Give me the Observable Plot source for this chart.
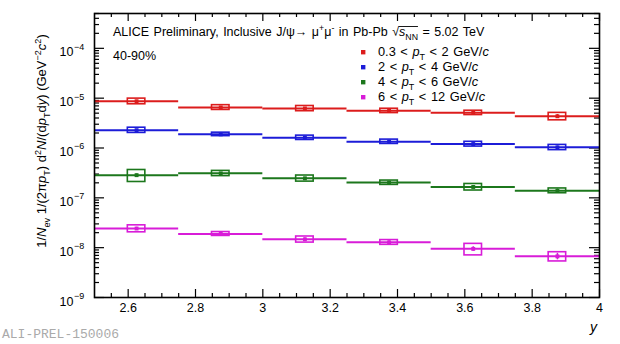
<!DOCTYPE html>
<html><head><meta charset="utf-8">
<script src="https://cdn.jsdelivr.net/npm/d3@7"></script>
<script src="https://cdn.jsdelivr.net/npm/@observablehq/plot@0.6"></script>
<style>
body{margin:0;background:#fff;}
#chart svg{display:block;font-family:"Liberation Sans",Arial,sans-serif;overflow:visible;}
</style>
</head><body><div id="chart"></div>
<script>
// ---- data ----
const binLow  = [2.5, 2.75, 3.0, 3.25, 3.5, 3.75];
const binHigh = [2.75, 3.0, 3.25, 3.5, 3.75, 4.0];
const seriesNames = ["0.3-2", "2-4", "4-6", "6-12"];
const ptLow  = ["0.3", "2", "4", "6"];
const ptHigh = ["2", "4", "6", "12"];
const seriesColors = ["#dc1c1c", "#1c1cd8", "#1c771c", "#d81cd8"];

const yieldPt03to2 = [8.67e-6, 6.52e-6, 6.22e-6, 5.58e-6, 5.09e-6, 4.33e-6];
const yieldPt2to4  = [2.28e-6, 1.88e-6, 1.61e-6, 1.34e-6, 1.20e-6, 1.03e-6];
const yieldPt4to6  = [2.85e-7, 3.10e-7, 2.46e-7, 2.02e-7, 1.65e-7, 1.39e-7];
const yieldPt6to12 = [2.42e-8, 1.89e-8, 1.47e-8, 1.28e-8, 9.46e-9, 6.70e-9];

// relative systematic uncertainties (boxes)
const sysPt03to2 = [0.13, 0.11, 0.12, 0.10, 0.10, 0.17];
const sysPt2to4  = [0.12, 0.08, 0.10, 0.10, 0.11, 0.12];
const sysPt4to6  = [0.27, 0.12, 0.14, 0.10, 0.15, 0.11];
const sysPt6to12 = [0.16, 0.09, 0.14, 0.11, 0.26, 0.21];
// relative statistical uncertainties (vertical bars)
const statPt03to2 = [0.04, 0.03, 0.04, 0.04, 0.05, 0.08];
const statPt2to4  = [0.03, 0.03, 0.03, 0.04, 0.05, 0.06];
const statPt4to6  = [0.05, 0.04, 0.05, 0.05, 0.07, 0.08];
const statPt6to12 = [0.06, 0.05, 0.07, 0.08, 0.10, 0.15];

const xMajorTicks = [2.6, 2.8, 3.0, 3.2, 3.4, 3.6, 3.8, 4.0];
const xTickLabels = ["2.6", "2.8", "3", "3.2", "3.4", "3.6", "3.8", "4"];
const xMinorTicks = [2.55, 2.65, 2.7, 2.75, 2.85, 2.9, 2.95, 3.05, 3.1, 3.15, 3.25, 3.3, 3.35, 3.45, 3.5, 3.55, 3.65, 3.7, 3.75, 3.85, 3.9, 3.95];
const yDecades = [1e-9, 1e-8, 1e-7, 1e-6, 1e-5, 1e-4];
const yExponents = ["\u22129", "\u22128", "\u22127", "\u22126", "\u22125", "\u22124"];
const yMinorMantissas = [2, 3, 4, 5, 6, 7, 8, 9];

// ---- build table ----
const yields = [yieldPt03to2, yieldPt2to4, yieldPt4to6, yieldPt6to12];
const syss = [sysPt03to2, sysPt2to4, sysPt4to6, sysPt6to12];
const stats = [statPt03to2, statPt2to4, statPt4to6, statPt6to12];
const boxHalf = 0.026;
const rows = [];
seriesNames.forEach((s, k) => {
  yields[k].forEach((v, i) => {
    const mid = (binLow[i] + binHigh[i]) / 2;
    rows.push({
      series: s, lo: binLow[i], hi: binHigh[i], mid, v,
      bx1: mid - boxHalf, bx2: mid + boxHalf,
      sy1: v * (1 - syss[k][i]), sy2: v * (1 + syss[k][i]),
      st1: v * (1 - stats[k][i]), st2: v * (1 + stats[k][i])
    });
  });
});
const yMinorTicks = [];
yDecades.forEach(d => yMinorMantissas.forEach(m => { const t = m * d; if (t <= 5e-4) yMinorTicks.push(t); }));

const W = 620, H = 344, mL = 94, mR = 21, mT = 13, mB = 47;
const pw = W - mL - mR, ph = H - mT - mB;
const fsTick = 12.5;

const chart = Plot.plot({
  width: W, height: H,
  marginLeft: mL, marginRight: mR, marginTop: mT, marginBottom: mB,
  style: {background: "white", fontFamily: "Liberation Sans, Arial, sans-serif"},
  x: {domain: [2.5, 4], axis: null},
  y: {type: "log", domain: [1e-9, 5e-4], axis: null},
  color: {domain: seriesNames, range: seriesColors},
  marks: [
    // ticks (inside frame, ROOT style)
    Plot.tickX(xMajorTicks, {x: d => d, insetTop: ph - 8, stroke: "black", strokeWidth: 1.2}),
    Plot.tickX(xMinorTicks, {x: d => d, insetTop: ph - 4, stroke: "black", strokeWidth: 1.2}),
    Plot.tickX(xMajorTicks, {x: d => d, insetBottom: ph - 8, stroke: "black", strokeWidth: 1.2}),
    Plot.tickX(xMinorTicks, {x: d => d, insetBottom: ph - 4, stroke: "black", strokeWidth: 1.2}),
    Plot.tickY(yDecades, {y: d => d, insetRight: pw - 10, stroke: "black", strokeWidth: 1.2}),
    Plot.tickY(yMinorTicks, {y: d => d, insetRight: pw - 5, stroke: "black", strokeWidth: 1.2}),
    Plot.tickY(yDecades, {y: d => d, insetLeft: pw - 10, stroke: "black", strokeWidth: 1.2}),
    Plot.tickY(yMinorTicks, {y: d => d, insetLeft: pw - 5, stroke: "black", strokeWidth: 1.2}),
    // tick labels
    Plot.text(xMajorTicks, {x: d => d, text: (d, i) => xTickLabels[i], frameAnchor: "bottom", lineAnchor: "top", dy: 6, fontSize: fsTick, fill: "black"}),
    Plot.text(yDecades, {y: d => d, text: () => "10", frameAnchor: "left", textAnchor: "end", lineAnchor: "middle", dx: -21, dy: 4, fontSize: fsTick, fill: "black"}),
    Plot.text(yDecades, {y: d => d, text: (d, i) => yExponents[i], frameAnchor: "left", textAnchor: "start", lineAnchor: "middle", dx: -20.5, dy: -1.5, fontSize: 9, fill: "black"}),
    // data
    Plot.ruleY(rows, {y: "v", x1: "lo", x2: "hi", stroke: "series", strokeWidth: 2}),
    Plot.rect(rows, {x1: "bx1", x2: "bx2", y1: "sy1", y2: "sy2", stroke: "series", fill: "none", strokeWidth: 1.6}),
    Plot.ruleX(rows, {x: "mid", y1: "st1", y2: "st2", stroke: "series", strokeWidth: 1.5}),
    Plot.dot(rows, {x: "mid", y: "v", symbol: "square", r: 2.2, fill: "series", stroke: "none"}),
    Plot.frame({stroke: "black", strokeWidth: 1.6})
  ]
});
document.getElementById("chart").appendChild(chart);

// ---- rich text annotations ----
const svg = d3.select(chart);
function rich(sel, parts, fs) {
  let off = 0;
  const out = [];
  for (const p of parts) {
    const target = p.sub ? fs * 0.3 : p.sup ? -fs * 0.42 : 0;
    const ts = sel.append("tspan").text(p.t).attr("dy", target - off);
    off = target;
    if (p.sub || p.sup) ts.attr("font-size", fs * 0.7);
    if (p.i) ts.attr("font-style", "italic");
    out.push(ts);
  }
  return out;
}
function txt(x, y, fs) {
  return svg.append("text").attr("x", x).attr("y", y).attr("font-size", fs)
    .attr("fill", "black").attr("text-anchor", "start");
}
const fsT = 12.5;
const titleSpans = rich(txt(113, 36, fsT).attr("word-spacing", 1), [
  {t: "ALICE Preliminary, Inclusive J/\u03C8\u2192 \u03BC"}, {t: "+", sup: true}, {t: "\u03BC"}, {t: "-", sup: true},
  {t: " in Pb-Pb "}, {t: "\u221A"}, {t: "s", i: true}, {t: "NN", sub: true}, {t: " = 5.02 TeV"}
], fsT);
// overbar of the square root
{
  const bs = titleSpans[5].node().getBBox();
  const bn = titleSpans[7].node().getBBox();
  svg.append("line").attr("x1", bs.x + bs.width - 0.5).attr("x2", bn.x + bn.width)
    .attr("y1", bs.y + 1.5).attr("y2", bs.y + 1.5).attr("stroke", "black").attr("stroke-width", 0.9);
}

txt(113, 60, fsT).text("40-90%");

// legend
seriesNames.forEach((s, k) => {
  const yRow = 52 + k * 15;
  svg.append("rect").attr("x", 361).attr("y", yRow - 2).attr("width", 4.4).attr("height", 4.4).attr("fill", seriesColors[k]);
  rich(txt(378, yRow + 4.2, 12.8).attr("word-spacing", 1), [{t: ptLow[k] + " < "}, {t: "p", i: true}, {t: "T", sub: true}, {t: " < " + ptHigh[k] + " GeV/"}, {t: "c", i: true}], 12.8);
});

// y-axis title
const fsY = 13;
const yt = svg.append("text").attr("transform", "translate(46,141) rotate(-90)").attr("text-anchor", "middle").attr("font-size", fsY).attr("fill", "black");
rich(yt, [
  {t: "1/"}, {t: "N", i: true}, {t: "ev", sub: true}, {t: " 1/(2\u03C0"}, {t: "p", i: true}, {t: "T", sub: true}, {t: ") d"},
  {t: "2", sup: true}, {t: "N", i: true}, {t: "/(d"}, {t: "p", i: true}, {t: "T", sub: true}, {t: "d"}, {t: "y", i: true},
  {t: ") (GeV"}, {t: "\u22122", sup: true}, {t: "c", i: true}, {t: "2", sup: true}, {t: ")"}
], fsY);

// x-axis title
svg.append("text").attr("x", 597).attr("y", 332).attr("text-anchor", "end").attr("font-size", 14).attr("font-style", "italic").attr("fill", "black").text("y");

// figure id
txt(2, 338, 13).attr("font-family", "Liberation Mono, monospace").attr("fill", "#aaaaaa").text("ALI-PREL-150006");
</script>
</body></html>
